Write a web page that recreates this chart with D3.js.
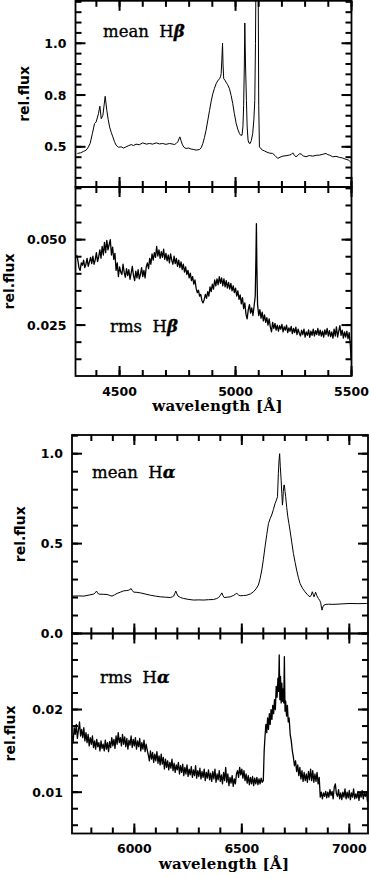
<!DOCTYPE html>
<html>
<head>
<meta charset="utf-8">
<script src="https://cdn.jsdelivr.net/npm/d3@7"></script>
<style>
  body { margin: 0; background: #fff; }
</style>
</head>
<body>
<script>
// mean H-beta spectrum [wavelength, rel.flux]
var meanHb = [
  [4318,0.468],[4332,0.471],[4345,0.478],[4356,0.484],[4365,0.498],[4373,0.516],[4383,0.565],[4392,0.612],
  [4399,0.620],[4409,0.660],[4415,0.696],[4421,0.636],[4428,0.652],[4438,0.744],[4445,0.676],[4451,0.632],
  [4457,0.596],[4464,0.570],[4471,0.548],[4478,0.525],[4485,0.508],[4495,0.498],[4507,0.500],[4517,0.494],
  [4528,0.500],[4540,0.506],[4550,0.511],[4560,0.506],[4571,0.513],[4585,0.510],[4600,0.519],[4615,0.513],
  [4629,0.516],[4643,0.513],[4658,0.519],[4672,0.514],[4686,0.516],[4700,0.512],[4715,0.516],[4726,0.514],
  [4737,0.511],[4745,0.517],[4751,0.524],[4756,0.538],[4760,0.548],[4765,0.530],[4770,0.513],[4778,0.497],
  [4787,0.492],[4798,0.494],[4809,0.489],[4820,0.487],[4830,0.484],[4845,0.487],[4852,0.496],[4859,0.516],
  [4866,0.545],[4873,0.580],[4880,0.625],[4888,0.676],[4895,0.720],[4902,0.756],[4909,0.782],[4916,0.804],
  [4923,0.818],[4931,0.829],[4935,0.838],[4938,0.853],[4941,0.920],[4944,1.000],[4946,0.900],[4949,0.829],
  [4954,0.822],[4959,0.812],[4966,0.800],[4974,0.780],[4981,0.748],[4988,0.708],[4995,0.660],[5003,0.612],
  [5010,0.584],[5017,0.564],[5022,0.556],[5028,0.556],[5032,0.600],[5035,0.700],[5038,0.900],[5040,1.098],
  [5043,0.900],[5047,0.724],[5050,0.600],[5054,0.532],[5058,0.518],[5063,0.516],[5068,0.530],[5074,0.564],
  [5079,0.630],[5083,0.724],[5086,1.000],[5089,1.450],[5094,1.500],[5097,1.450],[5100,0.700],[5103,0.500],
  [5110,0.490],[5117,0.484],[5125,0.480],[5132,0.476],[5145,0.470],[5160,0.468],[5170,0.458],[5182,0.444],
  [5192,0.450],[5204,0.455],[5218,0.457],[5232,0.460],[5240,0.463],[5247,0.471],[5254,0.458],[5261,0.452],
  [5270,0.460],[5276,0.467],[5283,0.465],[5292,0.456],[5304,0.452],[5318,0.458],[5333,0.455],[5348,0.459],
  [5362,0.460],[5376,0.464],[5390,0.468],[5398,0.462],[5405,0.460],[5412,0.456],[5419,0.452],[5433,0.454],
  [5448,0.449],[5462,0.446],[5477,0.439],[5488,0.436],[5494,0.428],[5498,0.424]
];

// rms H-beta spectrum [wavelength, rel.flux]
var rmsHb = [
  [4315,.0455],[4320,.0440],[4325,.0418],[4330,.0410],[4335,.0432],[4340,.0425],[4345,.0440],[4350,.0418],[4355,.0428],[4360,.0445],
  [4365,.0422],[4370,.0435],[4375,.0448],[4380,.0430],[4385,.0452],[4390,.0428],[4395,.0441],[4400,.0462],[4405,.0436],[4410,.0450],
  [4415,.0470],[4420,.0446],[4425,.0480],[4430,.0455],[4435,.0492],[4440,.0462],[4445,.0498],[4450,.0470],[4455,.0485],[4460,.0500],
  [4465,.0455],[4470,.0478],[4475,.0442],[4480,.0460],[4485,.0410],[4490,.0432],[4495,.0392],[4500,.0420],[4505,.0405],[4510,.0398],
  [4515,.0428],[4520,.0404],[4525,.0390],[4530,.0415],[4535,.0395],[4540,.0412],[4545,.0384],[4550,.0402],[4555,.0422],[4560,.0395],
  [4565,.0380],[4570,.0408],[4575,.0388],[4580,.0412],[4585,.0385],[4590,.0398],[4595,.0418],[4600,.0392],[4605,.0410],[4610,.0388],
  [4615,.0420],[4620,.0432],[4625,.0415],[4630,.0445],[4635,.0428],[4640,.0458],[4645,.0440],[4650,.0462],[4655,.0448],[4660,.0480],
  [4665,.0452],[4670,.0470],[4675,.0445],[4680,.0465],[4685,.0448],[4690,.0472],[4695,.0442],[4700,.0460],[4705,.0438],[4710,.0455],
  [4715,.0432],[4720,.0458],[4725,.0440],[4730,.0428],[4735,.0452],[4740,.0430],[4745,.0445],[4750,.0422],[4755,.0440],[4760,.0418],
  [4765,.0435],[4770,.0412],[4775,.0428],[4780,.0405],[4785,.0420],[4790,.0398],[4795,.0410],[4800,.0388],[4805,.0402],[4810,.0380],
  [4815,.0392],[4820,.0370],[4825,.0382],[4830,.0358],[4835,.0345],[4840,.0352],[4845,.0335],[4850,.0340],[4855,.0322],[4860,.0315],
  [4865,.0325],[4870,.0340],[4875,.0328],[4880,.0348],[4885,.0335],[4890,.0362],[4895,.0348],[4900,.0370],[4905,.0355],[4910,.0382],
  [4915,.0365],[4920,.0385],[4925,.0368],[4930,.0392],[4935,.0372],[4940,.0388],[4945,.0365],[4950,.0385],[4955,.0362],[4960,.0380],
  [4965,.0358],[4970,.0375],[4975,.0355],[4980,.0372],[4985,.0350],[4990,.0365],[4995,.0345],[5000,.0358],[5005,.0335],[5010,.0350],
  [5015,.0325],[5020,.0338],[5025,.0312],[5030,.0330],[5035,.0298],[5040,.0315],[5045,.0282],[5050,.0268],[5055,.0295],[5060,.0310],
  [5065,.0285],[5070,.0300],[5075,.0278],[5080,.0305],[5085,.0335],[5088,.0450],[5090,.0547],[5092,.0420],[5095,.0310],[5100,.0278],
  [5105,.0295],[5110,.0270],[5115,.0288],[5120,.0262],[5125,.0280],[5130,.0258],[5135,.0272],[5140,.0250],[5145,.0268],[5150,.0245],
  [5155,.0230],[5160,.0258],[5165,.0240],[5170,.0255],[5175,.0235],[5180,.0250],[5185,.0232],[5190,.0248],[5195,.0238],[5200,.0252],
  [5205,.0230],[5210,.0245],[5215,.0235],[5220,.0250],[5225,.0228],[5230,.0242],[5235,.0232],[5240,.0246],[5245,.0225],[5250,.0240],
  [5255,.0228],[5260,.0244],[5265,.0222],[5270,.0238],[5275,.0226],[5280,.0218],[5285,.0235],[5290,.0222],[5295,.0238],[5300,.0215],
  [5305,.0230],[5310,.0220],[5315,.0236],[5320,.0214],[5325,.0232],[5330,.0220],[5335,.0238],[5340,.0218],[5345,.0234],[5350,.0222],
  [5355,.0240],[5360,.0220],[5365,.0235],[5370,.0218],[5375,.0232],[5380,.0215],[5385,.0236],[5390,.0222],[5395,.0240],[5400,.0218],
  [5405,.0234],[5410,.0216],[5415,.0230],[5420,.0212],[5425,.0238],[5430,.0218],[5435,.0245],[5440,.0215],[5445,.0232],[5450,.0248],
  [5455,.0220],[5460,.0235],[5465,.0212],[5470,.0230],[5475,.0215],[5480,.0232],[5485,.0210],[5490,.0228],[5495,.0190],[5498,.0150]
];

// mean H-alpha spectrum [wavelength, rel.flux]
var meanHa = [
  [5712,0.208],[5740,0.209],[5765,0.208],[5790,0.214],[5811,0.219],[5818,0.226],[5824,0.236],[5829,0.226],
  [5834,0.219],[5855,0.218],[5873,0.217],[5885,0.212],[5896,0.208],[5908,0.215],[5920,0.223],[5935,0.230],
  [5950,0.237],[5965,0.239],[5974,0.241],[5980,0.245],[5985,0.250],[5990,0.240],[5997,0.230],[6012,0.229],
  [6028,0.226],[6050,0.220],[6074,0.213],[6098,0.208],[6121,0.204],[6145,0.202],[6167,0.200],[6177,0.204],
  [6183,0.208],[6188,0.222],[6193,0.236],[6198,0.220],[6203,0.208],[6215,0.200],[6229,0.195],[6250,0.190],
  [6276,0.186],[6300,0.187],[6322,0.186],[6345,0.188],[6368,0.189],[6382,0.194],[6392,0.200],[6400,0.212],
  [6407,0.226],[6412,0.212],[6418,0.200],[6432,0.202],[6446,0.204],[6462,0.212],[6470,0.219],[6477,0.223],
  [6485,0.214],[6492,0.210],[6508,0.211],[6523,0.213],[6540,0.220],[6554,0.232],[6566,0.248],[6577,0.269],
  [6585,0.305],[6593,0.353],[6600,0.410],[6608,0.482],[6616,0.550],[6624,0.612],[6632,0.640],[6639,0.659],
  [6647,0.690],[6655,0.724],[6661,0.742],[6666,0.761],[6670,0.891],[6673,0.960],[6676,1.000],[6679,0.930],
  [6683,0.853],[6686,0.780],[6689,0.714],[6691,0.740],[6693,0.790],[6696,0.826],[6698,0.826],[6701,0.790],
  [6704,0.761],[6709,0.700],[6714,0.649],[6719,0.612],[6724,0.575],[6732,0.510],[6740,0.445],[6748,0.395],
  [6755,0.353],[6763,0.312],[6771,0.278],[6782,0.252],[6794,0.232],[6805,0.216],[6817,0.204],[6823,0.214],
  [6828,0.232],[6832,0.218],[6836,0.204],[6840,0.218],[6843,0.230],[6849,0.210],[6856,0.195],[6862,0.185],
  [6867,0.171],[6871,0.140],[6873,0.130],[6877,0.148],[6882,0.158],[6892,0.162],[6904,0.163],[6920,0.162],
  [6943,0.163],[6970,0.165],[7003,0.167],[7040,0.166],[7081,0.167],[7087,0.167]
];

// rms H-alpha spectrum [wavelength, rel.flux]
var rmsHa = [
  [5712,.0168],[5715,.0160],[5720,.0178],[5725,.0170],[5730,.0182],[5735,.0165],[5740,.0175],[5745,.0185],[5750,.0168],[5755,.0176],
  [5760,.0166],[5765,.0178],[5770,.0162],[5775,.0172],[5780,.0160],[5785,.0170],[5790,.0156],[5795,.0166],[5800,.0158],[5805,.0168],
  [5810,.0154],[5815,.0162],[5820,.0152],[5825,.0164],[5830,.0155],[5835,.0160],[5840,.0150],[5845,.0162],[5850,.0153],[5855,.0158],
  [5860,.0150],[5865,.0163],[5870,.0152],[5875,.0160],[5880,.0149],[5885,.0161],[5890,.0154],[5895,.0166],[5900,.0156],[5905,.0164],
  [5910,.0153],[5915,.0168],[5920,.0158],[5925,.0172],[5930,.0160],[5935,.0166],[5940,.0156],[5945,.0170],[5950,.0158],[5955,.0167],
  [5960,.0155],[5965,.0165],[5970,.0152],[5975,.0163],[5980,.0157],[5985,.0168],[5990,.0154],[5995,.0164],[6000,.0156],[6005,.0166],
  [6010,.0152],[6015,.0162],[6020,.0155],[6025,.0165],[6030,.0150],[6035,.0160],[6040,.0152],[6045,.0163],[6050,.0149],[6055,.0158],
  [6060,.0151],[6065,.0145],[6070,.0138],[6075,.0150],[6080,.0140],[6085,.0148],[6090,.0136],[6095,.0146],[6100,.0138],[6105,.0149],
  [6110,.0135],[6115,.0144],[6120,.0133],[6125,.0146],[6130,.0134],[6135,.0142],[6140,.0128],[6145,.0140],[6150,.0130],[6155,.0138],
  [6160,.0127],[6165,.0136],[6170,.0129],[6175,.0140],[6180,.0126],[6185,.0135],[6190,.0124],[6195,.0133],[6200,.0127],[6205,.0136],
  [6210,.0122],[6215,.0132],[6220,.0124],[6225,.0134],[6230,.0120],[6235,.0130],[6240,.0122],[6245,.0133],[6250,.0119],[6255,.0128],
  [6260,.0121],[6265,.0131],[6270,.0118],[6275,.0127],[6280,.0120],[6285,.0132],[6290,.0117],[6295,.0126],[6300,.0119],[6305,.0129],
  [6310,.0116],[6315,.0125],[6320,.0118],[6325,.0128],[6330,.0114],[6335,.0124],[6340,.0117],[6345,.0127],[6350,.0115],[6355,.0123],
  [6360,.0113],[6365,.0125],[6370,.0116],[6375,.0128],[6380,.0112],[6385,.0122],[6390,.0115],[6395,.0126],[6400,.0113],[6405,.0121],
  [6410,.0110],[6415,.0124],[6420,.0114],[6425,.0130],[6430,.0112],[6435,.0122],[6440,.0108],[6445,.0118],[6450,.0111],[6455,.0120],
  [6460,.0107],[6465,.0116],[6470,.0110],[6475,.0122],[6480,.0126],[6485,.0118],[6490,.0130],[6495,.0121],[6500,.0128],[6505,.0117],
  [6510,.0126],[6515,.0114],[6520,.0122],[6525,.0111],[6530,.0120],[6535,.0109],[6540,.0118],[6545,.0110],[6550,.0119],[6555,.0108],
  [6560,.0117],[6565,.0110],[6570,.0118],[6575,.0109],[6580,.0116],[6585,.0110],[6590,.0117],[6595,.0112],[6600,.0114],[6604,.0150],
  [6608,.0168],[6612,.0182],[6616,.0172],[6620,.0190],[6624,.0176],[6628,.0195],[6632,.0182],[6636,.0200],[6640,.0188],[6644,.0205],
  [6648,.0195],[6652,.0212],[6656,.0200],[6660,.0228],[6664,.0215],[6668,.0238],[6671,.0222],[6674,.0266],[6677,.0212],[6680,.0240],
  [6683,.0208],[6686,.0232],[6689,.0210],[6692,.0225],[6695,.0208],[6698,.0264],[6701,.0198],[6704,.0210],[6708,.0192],[6712,.0205],
  [6716,.0185],[6720,.0190],[6725,.0170],[6730,.0162],[6735,.0150],[6740,.0142],[6745,.0132],[6750,.0138],[6755,.0125],[6760,.0133],
  [6765,.0120],[6770,.0130],[6775,.0116],[6780,.0126],[6785,.0113],[6790,.0124],[6795,.0114],[6800,.0122],[6805,.0112],[6810,.0125],
  [6815,.0115],[6820,.0128],[6825,.0114],[6830,.0126],[6835,.0112],[6840,.0122],[6845,.0113],[6850,.0124],[6855,.0110],[6860,.0118],
  [6865,.0094],[6870,.0100],[6875,.0092],[6880,.0099],[6885,.0095],[6890,.0101],[6895,.0093],[6900,.0100],[6905,.0094],[6910,.0103],
  [6915,.0096],[6920,.0101],[6925,.0092],[6930,.0106],[6935,.0110],[6940,.0098],[6945,.0095],[6950,.0103],[6955,.0092],[6960,.0099],
  [6965,.0091],[6970,.0100],[6975,.0094],[6980,.0104],[6985,.0092],[6990,.0100],[6995,.0093],[7000,.0102],[7005,.0091],[7010,.0099],
  [7015,.0094],[7020,.0104],[7025,.0092],[7030,.0098],[7035,.0093],[7040,.0101],[7045,.0090],[7050,.0100],[7055,.0094],[7060,.0102],
  [7065,.0092],[7070,.0099],[7075,.0095],[7080,.0100],[7085,.0088]
];

// tick values
var hbWaveTicks = [4500, 5000, 5500];
var haWaveTicks = [6000, 6500, 7000];
var meanHbTicks = [0.5, 0.75, 1.0];
var rmsHbTicks = [0.025, 0.050];
var meanHaTicks = [0.0, 0.5, 1.0];
var rmsHaTicks = [0.01, 0.02];

var svg = d3.select('body')
  .append('svg')
  .attr('width', 371)
  .attr('height', 878);

function drawPanel(p, id) {
  var x = d3.scaleLinear().domain(p.xDomain).range([p.left, p.right]);
  var y = d3.scaleLinear().domain(p.yDomain).range([p.bottom, p.top]);

  svg.append('clipPath').attr('id', 'clip' + id)
    .append('rect')
    .attr('x', p.left).attr('y', p.top)
    .attr('width', p.right - p.left).attr('height', p.bottom - p.top);

  var xMinor = d3.range(Math.ceil(p.xDomain[0] / 100) * 100, p.xDomain[1] + 1, 100);
  var yMinor = d3.range(Math.ceil(p.yDomain[0] / p.yStep - 1e-6), Math.floor(p.yDomain[1] / p.yStep + 1e-6) + 1)
    .map(function (k) { return k * p.yStep; });

  var g = svg.append('g').attr('stroke', '#000').attr('stroke-width', 2);

  // x ticks, bottom and top, pointing inward
  [[xMinor, 6], [p.xTicks, 10]].forEach(function (t) {
    g.append('g').selectAll('line').data(t[0]).enter().append('line')
      .attr('x1', function (d) { return x(d); }).attr('x2', function (d) { return x(d); })
      .attr('y1', p.bottom).attr('y2', p.bottom - t[1]);
    g.append('g').selectAll('line').data(t[0]).enter().append('line')
      .attr('x1', function (d) { return x(d); }).attr('x2', function (d) { return x(d); })
      .attr('y1', p.top).attr('y2', p.top + t[1]);
  });
  // y ticks, left and right
  [[yMinor, 6], [p.yTicks, 10]].forEach(function (t) {
    g.append('g').selectAll('line').data(t[0]).enter().append('line')
      .attr('y1', function (d) { return y(d); }).attr('y2', function (d) { return y(d); })
      .attr('x1', p.left).attr('x2', p.left + t[1]);
    g.append('g').selectAll('line').data(t[0]).enter().append('line')
      .attr('y1', function (d) { return y(d); }).attr('y2', function (d) { return y(d); })
      .attr('x1', p.right).attr('x2', p.right - t[1]);
  });

  // y tick labels
  svg.append('g').selectAll('text').data(p.yTicks).enter().append('text')
    .attr('x', p.left - 9)
    .attr('y', function (d) { return y(d); })
    .attr('dy', '0.36em')
    .attr('text-anchor', 'end')
    .style('font-family', '"DejaVu Sans", sans-serif')
    .style('font-weight', 'bold')
    .style('font-size', '12.5px')
    .text(d3.format(p.yFormat));

  if (p.xLabels) {
    svg.append('g').selectAll('text').data(p.xTicks).enter().append('text')
      .attr('x', function (d) { return x(d); })
      .attr('y', p.bottom + 19.5)
      .attr('text-anchor', 'middle')
      .style('font-family', '"DejaVu Sans", sans-serif')
      .style('font-weight', 'bold')
      .style('font-size', '12.5px')
      .text(function (d) { return d; });

    svg.append('text')
      .attr('x', (p.left + p.right) / 2 + 4)
      .attr('y', p.bottom + 35)
      .attr('text-anchor', 'middle')
      .style('font-family', '"DejaVu Serif", serif')
      .style('font-weight', 'bold')
      .style('font-size', '15px')
      .style('letter-spacing', '0.3px')
      .text('wavelength [Å]');
  }

  svg.append('path')
    .datum(p.data)
    .attr('clip-path', 'url(#clip' + id + ')')
    .attr('fill', 'none')
    .attr('stroke', '#000')
    .attr('stroke-width', p.lineWidth)
    .attr('stroke-linejoin', 'round')
    .attr('d', d3.line()
      .x(function (d) { return x(d[0]); })
      .y(function (d) { return y(d[1]); }));

  svg.append('rect')
    .attr('x', p.left).attr('y', p.top)
    .attr('width', p.right - p.left).attr('height', p.bottom - p.top)
    .attr('fill', 'none')
    .attr('stroke', '#000')
    .attr('stroke-width', 1.8);

  svg.append('text')
    .attr('transform', 'translate(' + p.yTitleX + ',' + (p.top + p.bottom) / 2 + ') rotate(-90)')
    .attr('text-anchor', 'middle')
    .attr('dy', '0.35em')
    .style('font-family', '"DejaVu Sans", sans-serif')
    .style('font-weight', 'bold')
    .style('font-size', '14px')
    .text('rel.flux');

  var t = svg.append('text')
    .attr('x', p.nameX).attr('y', p.nameY)
    .attr('stroke', '#000').attr('stroke-width', 0.35)
    .style('font-family', '"DejaVu Serif", serif')
    .style('font-size', '16.5px')
    .attr('xml:space', 'preserve');
  t.append('tspan').text(p.name + '  H');
  t.append('tspan').style('font-style', 'italic').style('font-weight', 'bold').text(p.greek);
}

drawPanel({ left: 75.5, right: 351.5, top: 0.8, bottom: 187, xDomain: [4310, 5500], yDomain: [0.306, 1.205],
  xTicks: hbWaveTicks, yTicks: meanHbTicks, yStep: 0.05, yFormat: '.1f', xLabels: false,
  data: meanHb, lineWidth: 1, name: 'mean', greek: 'β', nameX: 103, nameY: 37, yTitleX: 24 }, 1);

drawPanel({ left: 75.5, right: 351.5, top: 187, bottom: 376, xDomain: [4310, 5500], yDomain: [0.0101, 0.0654],
  xTicks: hbWaveTicks, yTicks: rmsHbTicks, yStep: 0.005, yFormat: '.3f', xLabels: true,
  data: rmsHb, lineWidth: 1.3, name: 'rms', greek: 'β', nameX: 110, nameY: 332, yTitleX: 9 }, 2);

drawPanel({ left: 72, right: 368, top: 435, bottom: 633.5, xDomain: [5710, 7087], yDomain: [0, 1.104],
  xTicks: haWaveTicks, yTicks: meanHaTicks, yStep: 0.1, yFormat: '.1f', xLabels: false,
  data: meanHa, lineWidth: 1, name: 'mean', greek: 'α', nameX: 92, nameY: 478, yTitleX: 20 }, 3);

drawPanel({ left: 72, right: 368, top: 633.5, bottom: 833.5, xDomain: [5710, 7087], yDomain: [0.005, 0.0292],
  xTicks: haWaveTicks, yTicks: rmsHaTicks, yStep: 0.002, yFormat: '.2f', xLabels: true,
  data: rmsHa, lineWidth: 1.3, name: 'rms', greek: 'α', nameX: 100, nameY: 683, yTitleX: 10 }, 4);
</script>
</body>
</html>
